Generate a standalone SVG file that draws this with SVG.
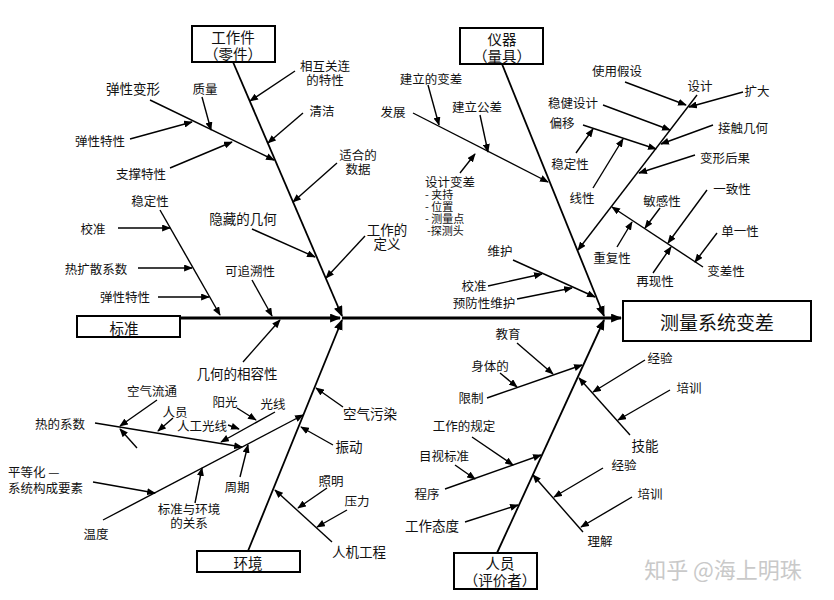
<svg xmlns="http://www.w3.org/2000/svg" width="834" height="600" viewBox="0 0 834 600">
<defs>
<marker id="ah" viewBox="0 0 10 8" refX="9" refY="4" markerWidth="9" markerHeight="7" markerUnits="userSpaceOnUse" orient="auto">
<path d="M0,0 L10,4 L0,8 z" fill="#000"/>
</marker>
<marker id="ahb" viewBox="0 0 10 8" refX="9" refY="4" markerWidth="11" markerHeight="9" markerUnits="userSpaceOnUse" orient="auto">
<path d="M0,0 L10,4 L0,8 z" fill="#000"/>
</marker>
</defs>
<style>
text{font-family:"Noto Sans CJK SC","Noto Sans",sans-serif;fill:#111;font-size:12.5px;text-anchor:middle;dominant-baseline:central}
.l{text-anchor:start}
.s{font-size:11px}
.m{font-size:13.5px}
.t{font-size:14.5px}
.big{font-size:19px}
.box{fill:#fff;stroke:#000;stroke-width:2}
.c line,.c path{stroke:#000;stroke-width:1.4;fill:none;marker-end:url(#ah)}
.c .main{stroke-width:1.8;marker-end:url(#ahb)}
.c .spine{stroke-width:3;marker-end:url(#ahb)}
.wm{fill:#c9c9c9;font-size:22px}
</style>
<rect width="834" height="600" fill="#fff"/>

<g id="connectors" class="c">
<line class="spine" x1="180" y1="318" x2="340" y2="318"/>
<line class="spine" x1="342" y1="318" x2="621" y2="318"/>
<line class="main" x1="233" y1="62" x2="342" y2="316"/>
<line class="main" x1="502" y1="64" x2="604" y2="316"/>
<line class="main" x1="497" y1="553" x2="604" y2="320"/>
<line class="main" x1="248" y1="551" x2="342" y2="320"/>
<!-- workpiece -->
<line x1="150" y1="100" x2="274" y2="160"/>
<line x1="202" y1="97" x2="211" y2="130"/>
<line x1="130" y1="139" x2="192" y2="122"/>
<line x1="170" y1="168" x2="232" y2="142"/>
<line x1="295" y1="71" x2="250" y2="101"/>
<line x1="303" y1="113" x2="268" y2="143"/>
<line x1="337" y1="163" x2="293" y2="202"/>
<line x1="252" y1="229" x2="315" y2="257"/>
<line x1="365" y1="236" x2="326" y2="278"/>
<!-- standard -->
<line x1="160" y1="210" x2="220" y2="315"/>
<line x1="118" y1="228" x2="170" y2="228"/>
<line x1="138" y1="268" x2="192" y2="268"/>
<line x1="158" y1="297" x2="209" y2="297"/>
<line x1="252" y1="280" x2="272" y2="316"/>
<line x1="243" y1="362" x2="280" y2="320"/>
<!-- environment -->
<line x1="343" y1="407" x2="316" y2="388"/>
<line x1="333" y1="445" x2="301" y2="427"/>
<line x1="332" y1="542" x2="275" y2="490"/>
<line x1="327" y1="488" x2="298" y2="508"/>
<line x1="347" y1="510" x2="317" y2="527"/>
<line x1="103" y1="520" x2="303" y2="415"/>
<line x1="93" y1="482" x2="155" y2="493"/>
<line x1="195" y1="503" x2="202" y2="468"/>
<line x1="240" y1="477" x2="248" y2="445"/>
<line x1="95" y1="423" x2="242" y2="447"/>
<line x1="157" y1="400" x2="120" y2="426"/>
<line x1="137" y1="448" x2="120" y2="429"/>
<line x1="173" y1="418" x2="158" y2="431"/>
<line x1="228" y1="425" x2="239" y2="429"/>
<line x1="275" y1="412" x2="221" y2="442"/>
<line x1="237" y1="408" x2="256" y2="420"/>
<!-- instrument -->
<line x1="413" y1="113" x2="548" y2="182"/>
<line x1="428" y1="85" x2="439" y2="125"/>
<line x1="480" y1="115" x2="488" y2="152"/>
<line x1="460" y1="173" x2="475" y2="154"/>
<line x1="513" y1="260" x2="595" y2="297"/>
<line x1="488" y1="286" x2="542" y2="274"/>
<line x1="517" y1="299" x2="572" y2="288"/>
<line x1="697" y1="95" x2="578" y2="250"/>
<line x1="743" y1="92" x2="689" y2="107"/>
<line x1="625" y1="82" x2="686" y2="105"/>
<line x1="603" y1="105" x2="670" y2="130"/>
<line x1="713" y1="125" x2="661" y2="144"/>
<line x1="583" y1="125" x2="656" y2="149"/>
<line x1="576" y1="153" x2="593" y2="129"/>
<line x1="593" y1="188" x2="623" y2="139"/>
<line x1="695" y1="155" x2="639" y2="173"/>
<line x1="703" y1="267" x2="612" y2="207"/>
<line x1="660" y1="208" x2="645" y2="228"/>
<line x1="707" y1="190" x2="668" y2="243"/>
<line x1="717" y1="233" x2="695" y2="262"/>
<line x1="617" y1="247" x2="632" y2="222"/>
<line x1="653" y1="273" x2="671" y2="247"/>
<!-- appraiser -->
<line x1="487" y1="398" x2="582" y2="365"/>
<line x1="517" y1="343" x2="553" y2="374"/>
<line x1="500" y1="373" x2="517" y2="387"/>
<line x1="630" y1="435" x2="579" y2="378"/>
<line x1="645" y1="360" x2="593" y2="392"/>
<line x1="670" y1="390" x2="618" y2="420"/>
<line x1="445" y1="489" x2="541" y2="455"/>
<line x1="472" y1="437" x2="513" y2="465"/>
<line x1="455" y1="465" x2="475" y2="479"/>
<line x1="465" y1="522" x2="518" y2="505"/>
<line x1="583" y1="532" x2="533" y2="475"/>
<line x1="603" y1="468" x2="554" y2="497"/>
<line x1="632" y1="497" x2="581" y2="527"/>
</g>

<g id="result">
<rect class="box" x="623" y="301" width="188" height="40"/>
<text class="big" x="717" y="321">测量系统变差</text>
</g>

<g id="workpiece">
<rect class="box" x="192" y="26" width="83" height="36"/>
<text class="t"><tspan x="233" y="36">工作件</tspan><tspan x="233" y="53">（零件）</tspan></text>
<text class="m" x="133" y="88">弹性变形</text>
<text x="205" y="88">质量</text>
<text x="100" y="140">弹性特性</text>
<text x="141" y="173">支撑特性</text>
<text><tspan x="325" y="65">相互关连</tspan><tspan x="325" y="79">的特性</tspan></text>
<text x="322" y="110">清洁</text>
<text><tspan x="358" y="154">适合的</tspan><tspan x="358" y="168">数据</tspan></text>
<text class="m" x="243" y="218">隐藏的几何</text>
<text class="m"><tspan x="387" y="229">工作的</tspan><tspan x="387" y="243">定义</tspan></text>
</g>

<g id="standard">
<rect class="box" x="77" y="316" width="103" height="21"/>
<text class="t" x="124" y="327">标准</text>
<text x="150" y="200">稳定性</text>
<text x="93" y="228">校准</text>
<text x="96" y="268">热扩散系数</text>
<text x="125" y="296">弹性特性</text>
<text x="250" y="270">可追溯性</text>
<text class="m" x="237" y="373">几何的相容性</text>
</g>

<g id="environment">
<rect class="box" x="197" y="551" width="103" height="21"/>
<text class="t" x="248" y="562">环境</text>
<text class="m" x="370" y="413">空气污染</text>
<text class="m" x="349" y="446">振动</text>
<text class="m" x="359" y="551">人机工程</text>
<text x="331" y="480">照明</text>
<text x="357" y="500">压力</text>
<text x="96" y="533">温度</text>
<text class="l"><tspan x="8" y="471">平等化 —</tspan><tspan x="8" y="487">系统构成要素</tspan></text>
<text><tspan x="189" y="508">标准与环境</tspan><tspan x="189" y="522">的关系</tspan></text>
<text x="237" y="486">周期</text>
<text x="60" y="423">热的系数</text>
<text x="152" y="390">空气流通</text>
<text x="175" y="411">人员</text>
<text x="202" y="425">人工光线</text>
<text x="273" y="403">光线</text>
<text x="225" y="401">阳光</text>
</g>

<g id="instrument">
<rect class="box" x="460" y="28" width="83" height="36"/>
<text class="t"><tspan x="502" y="38">仪器</tspan><tspan x="502" y="55">（量具）</tspan></text>
<text x="393" y="111">发展</text>
<text x="431" y="78">建立的变差</text>
<text x="477" y="106">建立公差</text>
<text class="l"><tspan x="425" y="181">设计变差</tspan><tspan class="s" x="425" y="194">-  夹持</tspan><tspan class="s" x="425" y="206">-  位置</tspan><tspan class="s" x="425" y="218">-  测量点</tspan><tspan class="s" x="427" y="230">-探测头</tspan></text>
<text x="500" y="250">维护</text>
<text x="474" y="285">校准</text>
<text x="484" y="302">预防性维护</text>
<text x="700" y="85">设计</text>
<text x="757" y="90">扩大</text>
<text x="617" y="70">使用假设</text>
<text x="573" y="102">稳健设计</text>
<text x="743" y="127">接触几何</text>
<text x="562" y="122">偏移</text>
<text x="570" y="163">稳定性</text>
<text x="582" y="197">线性</text>
<text x="725" y="157">变形后果</text>
<text x="726" y="270">变差性</text>
<text x="662" y="200">敏感性</text>
<text x="732" y="188">一致性</text>
<text x="740" y="230">单一性</text>
<text x="612" y="257">重复性</text>
<text x="655" y="280">再现性</text>
</g>

<g id="appraiser">
<rect class="box" x="454" y="553" width="83" height="36"/>
<text class="t"><tspan x="500" y="562">人员</tspan><tspan x="500" y="579">（评价者）</tspan></text>
<text x="471" y="397">限制</text>
<text x="508" y="333">教育</text>
<text x="490" y="365">身体的</text>
<text x="660" y="357">经验</text>
<text x="689" y="387">培训</text>
<text class="m" x="645" y="445">技能</text>
<text x="427" y="493">程序</text>
<text x="464" y="425">工作的规定</text>
<text x="444" y="455">目视标准</text>
<text class="m" x="432" y="525">工作态度</text>
<text x="600" y="540">理解</text>
<text x="624" y="464">经验</text>
<text x="650" y="493">培训</text>
</g>

<text class="wm" x="723" y="568">知乎 @海上明珠</text>
</svg>
